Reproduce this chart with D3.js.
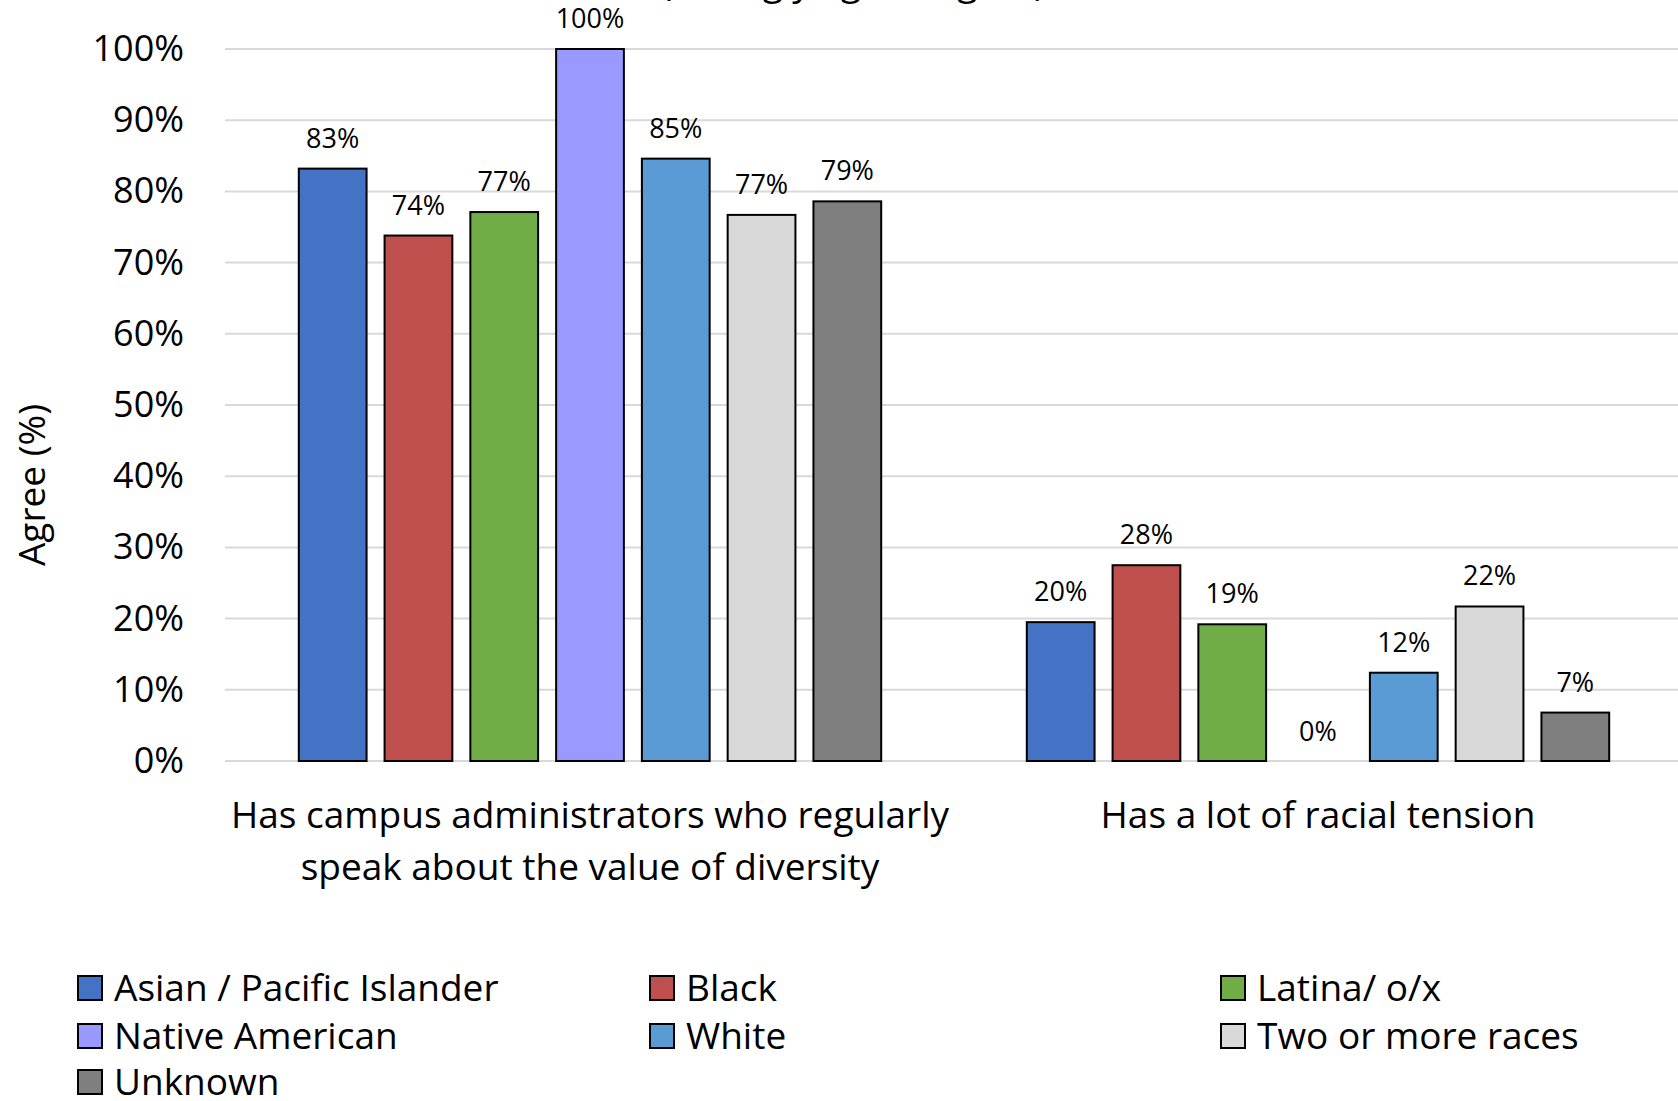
<!DOCTYPE html>
<html>
<head>
<meta charset="utf-8">
<script src="https://cdn.jsdelivr.net/npm/d3@7"></script>
<style>
  html, body { margin: 0; padding: 0; background: #fff; }
  svg { display: block; font-family: 'Open Sans', sans-serif; }
</style>
</head>
<body>
<svg id="chart"></svg>
<script>
// DATA
const categories = [
  ['Has campus administrators who regularly', 'speak about the value of diversity'],
  ['Has a lot of racial tension'],
];
const groups = [
  'Asian / Pacific Islander',
  'Black',
  'Latina/ o/x',
  'Native American',
  'White',
  'Two or more races',
  'Unknown',
];
const colors = ['#4472c4', '#c0504d', '#70ad47', '#9999ff', '#5b9bd5', '#d9d9d9', '#7f7f7f'];
const administratorsValues = [83.2, 73.8, 77.1, 100, 84.6, 76.7, 78.6];
const tensionValues = [19.5, 27.5, 19.2, 0, 12.4, 21.7, 6.8];
const yTicks = [0, 10, 20, 30, 40, 50, 60, 70, 80, 90, 100];
const titleText = '(strongly agree, agree)';

function drawChart() {
  //SETUP
  const width = 1678;
  const height = 1101;
  const svg = d3.select('#chart').attr('width', width).attr('height', height);

  const padding = { top: 49, right: 0, bottom: 340, left: 225 };

  const series = [administratorsValues, tensionValues];
  const data = categories.map((c, i) => ({
    label: c,
    values: groups.map((g, j) => ({ group: g, value: series[i][j], color: colors[j] })),
  }));

  //SCALES
  // plot area slightly wider than the window on the right, as in the original
  const x0 = d3
    .scaleBand()
    .domain(d3.range(categories.length))
    .range([padding.left + 1, width + 4])
    .paddingInner(0.2)
    .paddingOuter(0.1);

  const x1 = d3
    .scaleBand()
    .domain(groups)
    .range([0, x0.bandwidth()])
    .paddingInner(0.21)
    .paddingOuter(0);

  const yScale = d3
    .scaleLinear()
    .domain([0, 100])
    .range([height - padding.bottom, padding.top]);

  //TITLE (cut off at the top)
  svg
    .append('text')
    .attr('x', 853)
    .attr('y', -5)
    .attr('text-anchor', 'middle')
    .style('font-size', '37px')
    .text(titleText);

  //GRID
  svg
    .append('g')
    .selectAll('line')
    .data(yTicks)
    .join('line')
    .attr('x1', padding.left)
    .attr('x2', width - padding.right)
    .attr('y1', (d) => yScale(d))
    .attr('y2', (d) => yScale(d))
    .attr('stroke', '#d9d9d9')
    .attr('stroke-width', 2);

  //Y AXIS
  const yAxis = d3
    .axisLeft(yScale)
    .tickValues(yTicks)
    .tickFormat((d) => d + '%')
    .tickSize(0)
    .tickPadding(41);
  svg
    .append('g')
    .attr('transform', `translate(${padding.left},0)`)
    .call(yAxis)
    .call((g) => g.select('.domain').remove())
    .selectAll('text')
    .attr('fill', '#000')
    .style('font-family', "'Open Sans', sans-serif")
    .style('font-size', '36px');

  //Y LABEL
  svg
    .append('text')
    .attr('transform', 'rotate(-90)')
    .attr('x', -485)
    .attr('y', 32)
    .attr('dy', '0.35em')
    .attr('text-anchor', 'middle')
    .style('font-size', '37px')
    .text('Agree (%)');

  //BARS
  const group = svg
    .selectAll('.group')
    .data(data)
    .join('g')
    .classed('group', true)
    .attr('transform', (d, i) => `translate(${x0(i)},0)`);

  group
    .selectAll('rect')
    .data((d) => d.values.filter((v) => v.value > 0))
    .join('rect')
    .attr('x', (d) => x1(d.group))
    .attr('y', (d) => yScale(d.value))
    .attr('width', x1.bandwidth())
    .attr('height', (d) => yScale(0) - yScale(d.value))
    .attr('fill', (d) => d.color)
    .attr('stroke', '#000')
    .attr('stroke-width', 2);

  group
    .selectAll('.bar-label')
    .data((d) => d.values)
    .join('text')
    .classed('bar-label', true)
    .attr('x', (d) => x1(d.group) + x1.bandwidth() / 2)
    .attr('y', (d) => yScale(d.value) - (d.value > 0 ? 21 : 20))
    .attr('text-anchor', 'middle')
    .style('font-size', '27px')
    .text((d) => Math.round(d.value) + '%');

  //CATEGORY LABELS
  group
    .append('text')
    .attr('x', x0.bandwidth() / 2)
    .attr('y', 828)
    .attr('text-anchor', 'middle')
    .style('font-size', '37px')
    .selectAll('tspan')
    .data((d) => d.label)
    .join('tspan')
    .attr('x', x0.bandwidth() / 2)
    .attr('dy', (d, i) => (i === 0 ? 0 : 52))
    .text((d) => d);

  //LEGEND
  const legendCols = [78, 650, 1221];
  const legendRows = [988, 1036, 1082];
  const legend = svg
    .selectAll('.legend-item')
    .data(groups)
    .join('g')
    .classed('legend-item', true)
    .attr('transform', (d, i) => `translate(${legendCols[i % 3]},${legendRows[Math.floor(i / 3)]})`);

  legend
    .append('rect')
    .attr('x', 0)
    .attr('y', -12)
    .attr('width', 24)
    .attr('height', 24)
    .attr('fill', (d, i) => colors[i])
    .attr('stroke', '#000')
    .attr('stroke-width', 2);

  legend
    .append('text')
    .attr('x', 36)
    .attr('dy', '0.35em')
    .style('font-size', '37px')
    .text((d) => d);
}

drawChart();
</script>
</body>
</html>
